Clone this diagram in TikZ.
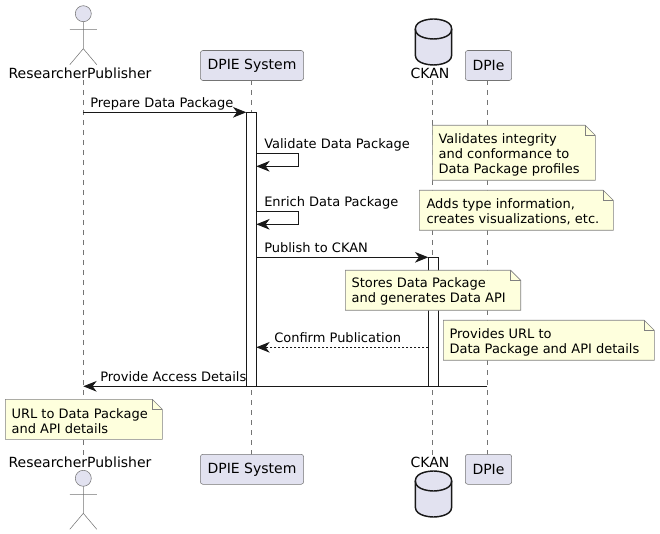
\documentclass[tikz,border=0pt]{standalone}
\usepackage{fontspec}
\setmainfont{DejaVu Sans}
\usetikzlibrary{arrows.meta}
\definecolor{partfill}{HTML}{E2E2F0}
\definecolor{partline}{HTML}{181818}
\definecolor{notefill}{HTML}{FEFFDD}
\tikzset{
  x=0.75pt,y=-0.75pt,
  lifeline/.style={draw=partline!60,line width=0.4pt,dash pattern=on 3.75pt off 3.75pt},
  partbox/.style={draw=partline!60,fill=partfill,rounded corners=1.9pt,line width=0.4pt,minimum height=22.5pt,inner sep=0pt,font=\fontsize{10.5pt}{12pt}\selectfont,text=black},
  actorlabel/.style={inner sep=0pt,font=\fontsize{10.5pt}{12pt}\selectfont,text=black},
  msg/.style={draw=partline,line width=0.75pt,-{Stealth[length=10pt,width=8pt,inset=3pt]}},
  msgd/.style={msg,dash pattern=on 1.5pt off 1.5pt},
  msgtext/.style={inner sep=0pt,anchor=base west,font=\fontsize{9.75pt}{12pt}\selectfont,text=black},
  bar/.style={draw=partline,fill=white,line width=0.75pt},
  notebody/.style={draw=partline!55,fill=notefill,line width=0.45pt},
  notetext/.style={inner sep=0pt,anchor=north west,align=left,font=\fontsize{9.75pt}{11.4pt}\selectfont,text=black},
  actorline/.style={draw=partline!60,line width=0.4pt},
  dbline/.style={draw=partline,fill=partfill,line width=1.1pt},
}
\newcommand{\notebox}[4]{% x1 y1 x2 y2
  \draw[notebody] (#1,#2) -- (#3-10,#2) -- (#3,#2+10) -- (#3,#4) -- (#1,#4) -- cycle;
  \draw[notebody,fill=none] (#3-10,#2) -- (#3-10,#2+10) -- (#3,#2+10);
}
\newcommand{\notestrut}{\rule{0pt}{9pt}}
\newcommand{\actorfig}[2]{% cx, head y
  \draw[actorline,fill=partfill] (#1,#2) circle[radius=8];
  \draw[actorline] (#1,#2+8) -- (#1,#2+35) (#1-13.5,#2+16) -- (#1+13.5,#2+16)
    (#1-13.5,#2+51) -- (#1,#2+35) -- (#1+13.5,#2+51);
}
\newcommand{\dbfig}[2]{% left x, top y
  \draw[dbline] (#1,#2+10) .. controls (#1,#2) and (#1+18.2,#2) .. (#1+18.2,#2)
     .. controls (#1+18.2,#2) and (#1+36.4,#2) .. (#1+36.4,#2+10)
     -- (#1+36.4,#2+36) .. controls (#1+36.4,#2+46) and (#1+18.2,#2+46) .. (#1+18.2,#2+46)
     .. controls (#1+18.2,#2+46) and (#1,#2+46) .. (#1,#2+36) -- cycle;
  \draw[dbline,fill=none] (#1,#2+10) .. controls (#1,#2+20) and (#1+18.2,#2+20) .. (#1+18.2,#2+20)
     .. controls (#1+18.2,#2+20) and (#1+36.4,#2+20) .. (#1+36.4,#2+10);
}
\begin{document}
\begin{tikzpicture}
\useasboundingbox (0,0) rectangle (660,534);
% lifelines
\coordinate (rt) at (83.3,80); \coordinate (rb) at (83.3,455);
\coordinate (st) at (251.3,80); \coordinate (sb) at (251.3,455);
\coordinate (ct) at (432.3,80); \coordinate (cb) at (432.3,455);
\coordinate (dt) at (487.3,80); \coordinate (db) at (487.3,455);
\draw[lifeline] (rt) -- (rb);
\draw[lifeline] (st) -- (sb);
\draw[lifeline] (ct) -- (cb);
\draw[lifeline] (dt) -- (db);
% actors
\actorfig{83.3}{13.7}
\actorfig{83.3}{478.3}
\node[actorlabel] (rlt) at (80,73) {ResearcherPublisher};
\node[actorlabel] (rlb) at (80,462) {ResearcherPublisher};
% participants
\node[partbox,minimum width=77.4pt] (sys) at (252,65.5) {DPIE System};
\node[partbox,minimum width=77.4pt] (sysb) at (252,469.3) {DPIE System};
\node[partbox,minimum width=34.8pt] (dpi) at (488.5,65.5) {DPIe};
\node[partbox,minimum width=34.8pt] (dpib) at (488.5,469.3) {DPIe};
\dbfig{415.3}{19}
\dbfig{415.3}{471}
\node[actorlabel] (ckt) at (430,73) {CKAN};
\node[actorlabel] (ckb) at (430,462) {CKAN};
% activations
\draw[bar] (246.3,112.3) rectangle (256.3,386.3);
\draw[bar] (428.3,257.3) rectangle (438.3,386.3);
\coordinate (sbarL1) at (246.3,112.3);
\coordinate (r1) at (83.3,112.3);
\draw[msg] (r1) -- (sbarL1);
\node[msgtext] (m1) at (90,108) {Prepare Data Package};
% self messages
\coordinate (v1) at (256.3,153.3); \coordinate (v2) at (298.7,153.3); \coordinate (v3) at (298.7,166.3); \coordinate (v4) at (256.3,166.3);
\draw[msg] (v1) -- (v2) -- (v3) -- (v4);
\node[msgtext] (m2) at (264,148.3) {Validate Data Package};
\coordinate (e1) at (256.3,211.5); \coordinate (e2) at (298.7,211.5); \coordinate (e3) at (298.7,224.3); \coordinate (e4) at (256.3,224.3);
\draw[msg] (e1) -- (e2) -- (e3) -- (e4);
\node[msgtext] (m3) at (264,206.7) {Enrich Data Package};
\coordinate (p1) at (256.3,257.3); \coordinate (p2) at (428.3,257.3);
\draw[msg] (p1) -- (p2);
\node[msgtext] (m4) at (264,252.7) {Publish to CKAN};
\coordinate (c1) at (428.3,347.3); \coordinate (c2) at (256.3,347.3);
\draw[msgd] (c1) -- (c2);
\node[msgtext] (m5) at (274,342.7) {Confirm Publication};
\coordinate (a1) at (487.3,386.3); \coordinate (a2) at (83.3,386.3);
\draw[msg] (a1) -- (a2);
\node[msgtext] (m6) at (100,382) {Provide Access Details};
% notes
\notebox{432.3}{125.3}{595.3}{180.3}
\node[notetext] (n1) at (438.3,131) {\notestrut Validates integrity\\and conformance to\\Data Package profiles};
\notebox{419.3}{190.3}{613.3}{230.3}
\node[notetext] (n2) at (426.3,196.2) {\notestrut Adds type information,\\creates visualizations, etc.};
\notebox{345.3}{270.3}{520.7}{310.3}
\node[notetext] (n3) at (351.3,275.3) {\notestrut Stores Data Package\\and generates Data API};
\notebox{443.3}{320.3}{654.3}{360.3}
\node[notetext] (n4) at (449.3,326.2) {\notestrut Provides URL to\\Data Package and API details};
\notebox{5.3}{399.3}{162.3}{439.3}
\node[notetext] (n5) at (11.3,405.8) {\notestrut URL to Data Package\\and API details};
\end{tikzpicture}
\end{document}
